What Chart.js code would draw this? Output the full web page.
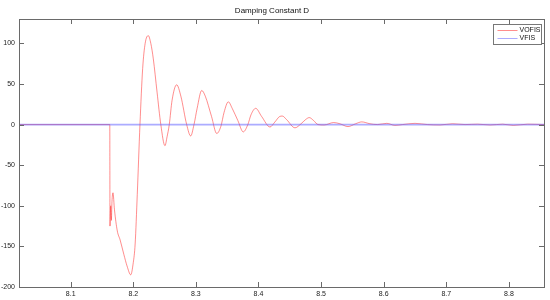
<!DOCTYPE html>
<html>
<head>
<meta charset="utf-8">
<script src="https://cdn.jsdelivr.net/npm/chart.js"></script>
<style>
  html,body{margin:0;padding:0;background:#fff;}
  #wrap{width:550px;height:300px;position:relative;}
</style>
</head>
<body>
<div id="wrap"><canvas id="c"></canvas></div>
<script>
/* ===== data ===== */
const title = "Damping Constant D";
const xMin = 8.0175, xMax = 8.856;
const yMin = -200, yMax = 130;
const xTicks = [8.1, 8.2, 8.3, 8.4, 8.5, 8.6, 8.7, 8.8];
const yTicks = [-200, -150, -100, -50, 0, 50, 100];

const vofisT = [
  8.0175, 8.1625, 8.1628, 8.1640, 8.1650, 8.1660, 8.1676, 8.1700, 8.1745, 8.1790,
  8.1850, 8.1900, 8.1960, 8.2000, 8.2030, 8.2064, 8.2107, 8.2150, 8.2190, 8.2240,
  8.2280, 8.2320, 8.2380, 8.2440, 8.2506, 8.2540, 8.2575, 8.2620, 8.2693, 8.2760,
  8.2853, 8.2917, 8.2970, 8.3020, 8.3093, 8.3150, 8.3250, 8.3333, 8.3400, 8.3450,
  8.3518, 8.3580, 8.3670, 8.3757, 8.3830, 8.3880, 8.3955, 8.4050, 8.4184, 8.4260,
  8.4340, 8.4380, 8.4450, 8.4583, 8.4680, 8.4750, 8.4810, 8.4880, 8.4950, 8.5050,
  8.5200, 8.5300, 8.5430, 8.5550, 8.5650, 8.5780, 8.5900, 8.6050, 8.6180, 8.6300,
  8.6500, 8.6700, 8.6900, 8.7100, 8.7300, 8.7500, 8.7700, 8.7900, 8.8070, 8.8300,
  8.8560
];
const vofisV = [
  0, 0, -125, -100, -118, -95, -84, -105, -131, -142,
  -160, -174, -185, -170, -147, -86, 0, 69, 100, 109.5,
  100, 81, 40, 0, -26, -15, 0, 30, 49, 35,
  0, -14, 0, 20, 42, 35, 10, -11, -2, 15,
  28, 20, 5, -9, 0, 12, 20, 10, -3, 3,
  10, 10.5, 6, -4, 1, 6, 8.6, 5, 0, -0.5,
  2.5, 1, -2.5, 1, 3.3, 1, 0, 1.5, -1, 0,
  1.5, 0, -0.5, 1, 0, 0.5, -0.5, 0.5, -1, 0.5,
  0
];
const vfisT = [8.0175, 8.856];
const vfisV = [0, 0];

const pts = (t, v) => t.map((x, i) => ({x, y: v[i]}));

/* ===== matlab-ish frame: box, inward ticks, boxed legend ===== */
const frame = {
  id: 'frame',
  afterDraw(ch){
    const {ctx, chartArea: a, scales: {x, y}} = ch;
    ctx.save();
    ctx.strokeStyle = '#6a6a6a';
    ctx.lineWidth = 1;
    ctx.strokeRect(a.left + .5, a.top + .5, a.right - a.left, a.bottom - a.top);
    ctx.beginPath();
    xTicks.forEach(v => {
      const px = Math.round(x.getPixelForValue(v)) + .5;
      ctx.moveTo(px, a.bottom); ctx.lineTo(px, a.bottom - 5);
      ctx.moveTo(px, a.top); ctx.lineTo(px, a.top + 5);
    });
    yTicks.forEach(v => {
      const py = Math.round(y.getPixelForValue(v)) + .5;
      ctx.moveTo(a.left, py); ctx.lineTo(a.left + 5, py);
      ctx.moveTo(a.right, py); ctx.lineTo(a.right - 5, py);
    });
    ctx.stroke();

    // legend
    const lx = 493.5, ly = 24.5, lw = 48, lh = 20;
    ctx.fillStyle = '#fff';
    ctx.fillRect(lx, ly, lw, lh);
    ctx.strokeStyle = '#777';
    ctx.strokeRect(lx, ly, lw, lh);
    ctx.font = '7px "Liberation Sans", Arial, sans-serif';
    ctx.textBaseline = 'middle';
    ch.data.datasets.forEach((d, i) => {
      const yy = ly + 6 + i * 8;
      ctx.strokeStyle = d.borderColor;
      ctx.lineWidth = 1;
      ctx.beginPath(); ctx.moveTo(lx + 4, yy); ctx.lineTo(lx + 24, yy); ctx.stroke();
      ctx.fillStyle = '#111';
      ctx.fillText(d.label, lx + 26, yy);
    });
    ctx.restore();
  }
};

new Chart(document.getElementById('c'), {
  type: 'line',
  data: {
    datasets: [
      {label: 'VOFIS', data: pts(vofisT, vofisV), borderColor: 'rgba(255,30,30,0.5)', borderWidth: 1,
       pointRadius: 0, tension: 0.35, cubicInterpolationMode: 'monotone', fill: false, order: 1},
      {label: 'VFIS', data: pts(vfisT, vfisV), borderColor: 'rgba(90,90,255,0.5)', borderWidth: 1.6,
       pointRadius: 0, fill: false, order: 0}
    ]
  },
  options: {
    responsive: true,
    maintainAspectRatio: false,
    animation: false,
    layout: {padding: {left: 0, right: 6, top: 0, bottom: 0}},
    plugins: {
      legend: {display: false},
      tooltip: {enabled: false},
      title: {display: true, text: title, color: '#111',
              font: {size: 8, family: '"Liberation Sans", Arial, sans-serif', weight: 'normal', lineHeight: 1.25},
              padding: {top: 6, bottom: 3}}
    },
    scales: {
      x: {
        type: 'linear', min: xMin, max: xMax,
        afterBuildTicks: s => { s.ticks = xTicks.map(v => ({value: v})); },
        afterFit: s => { s.height = 13; },
        grid: {display: false, drawTicks: false},
        border: {display: false},
        ticks: {padding: 3, color: '#222', maxRotation: 0,
                font: {size: 7, family: '"Liberation Sans", Arial, sans-serif'},
                callback: v => v.toFixed(1)}
      },
      y: {
        min: yMin, max: yMax,
        afterBuildTicks: s => { s.ticks = yTicks.map(v => ({value: v})); },
        afterFit: s => { s.width = 19; },
        grid: {display: false, drawTicks: false},
        border: {display: false},
        ticks: {padding: 4, color: '#222',
                font: {size: 7, family: '"Liberation Sans", Arial, sans-serif'}}
      }
    }
  },
  plugins: [frame]
});
</script>
</body>
</html>
